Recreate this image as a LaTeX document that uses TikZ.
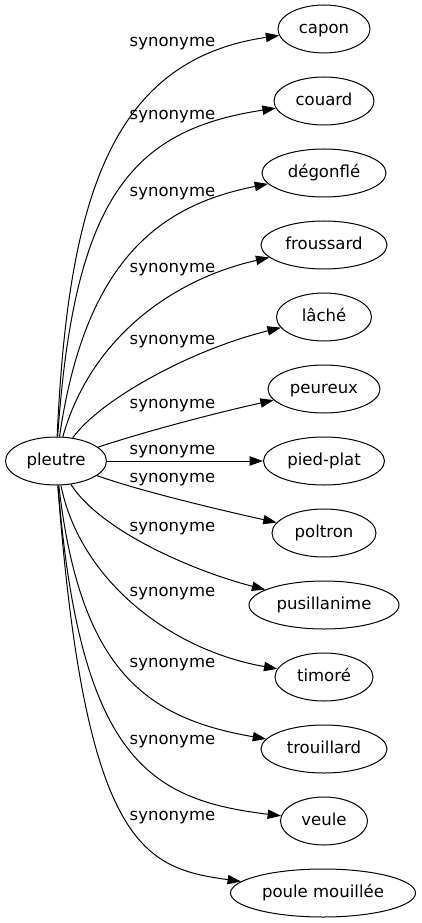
\documentclass[tikz,border=0pt]{standalone}
\usepackage{fontspec}
\setmainfont{DejaVu Sans}
\usetikzlibrary{shapes.geometric,arrows.meta}
\begin{document}
\begin{tikzpicture}[x=0.75pt,y=-0.75pt,
  font=\fontsize{12.4pt}{14pt}\selectfont,
  word/.style={ellipse,draw,line width=0.75pt,inner sep=1pt,minimum height=36pt,minimum width=#1,text height=9.8pt,text depth=3pt},
  lbl/.style={inner sep=0pt,text height=9.8pt,text depth=3pt},
  syn/.style={draw,line width=0.75pt,-{Triangle[length=10pt,width=7pt]}}]
\fill[white] (0,0) rectangle (421,923);
\useasboundingbox (0,0) rectangle (421,923);

\node[word=75.75pt] (pleutre) at (56,461) {pleutre};
\node[word=69pt]    (capon) at (324,29) {capon};
\node[word=75pt]    (couard) at (324,101) {couard};
\node[word=93pt]    (degonfle) at (324,173) {dégonflé};
\node[word=94.5pt]  (froussard) at (324,245) {froussard};
\node[word=71.25pt] (lache) at (324,317) {lâché};
\node[word=84pt]    (peureux) at (324,389) {peureux};
\node[word=90.75pt] (piedplat) at (324,461) {pied-plat};
\node[word=78pt]    (poltron) at (324,533) {poltron};
\node[word=112.5pt] (pusillanime) at (324,605) {pusillanime};
\node[word=73.5pt]  (timore) at (324,677) {timoré};
\node[word=94.5pt]  (trouillard) at (324,749) {trouillard};
\node[word=65.25pt] (veule) at (324,821) {veule};
\node[word=138.75pt] (poule) at (323,893) {poule mouillée};

\node[lbl] (l1) at (172.5,42) {synonyme};
\node[lbl] (l2) at (172.5,115) {synonyme};
\node[lbl] (l3) at (172.5,192) {synonyme};
\node[lbl] (l4) at (172.5,268) {synonyme};
\node[lbl] (l5) at (172.5,340) {synonyme};
\node[lbl] (l6) at (172.5,404) {synonyme};
\node[lbl] (l7) at (172.5,450) {synonyme};
\node[lbl] (l8) at (172.5,478) {synonyme};
\node[lbl] (l9) at (172.5,527) {synonyme};
\node[lbl] (l10) at (172.5,592) {synonyme};
\node[lbl] (l11) at (172.5,663) {synonyme};
\node[lbl] (l12) at (172.5,740) {synonyme};
\node[lbl] (l13) at (172.5,816) {synonyme};

\draw[syn] (pleutre) .. controls (68,200) and (110,60) .. (capon);
\draw[syn] (pleutre) .. controls (74,200) and (130,130) .. (couard);
\draw[syn] (pleutre) .. controls (85,260) and (160,205) .. (degonfle);
\draw[syn] (pleutre) .. controls (90,340) and (170,280) .. (froussard);
\draw[syn] (pleutre) .. controls (100,400) and (190,350) .. (lache);
\draw[syn] (pleutre) .. controls (150,430) and (220,412) .. (peureux);
\draw[syn] (pleutre) -- (piedplat);
\draw[syn] (pleutre) .. controls (140,491) and (220,510) .. (poltron);
\draw[syn] (pleutre) .. controls (100,530) and (190,570) .. (pusillanime);
\draw[syn] (pleutre) .. controls (80,580) and (170,650) .. (timore);
\draw[syn] (pleutre) .. controls (80,670) and (145,718) .. (trouillard);
\draw[syn] (pleutre) .. controls (80,760) and (150,800) .. (veule);
\draw[syn] (pleutre) .. controls (85,850) and (145,868) .. (poule);
\end{tikzpicture}
\end{document}
